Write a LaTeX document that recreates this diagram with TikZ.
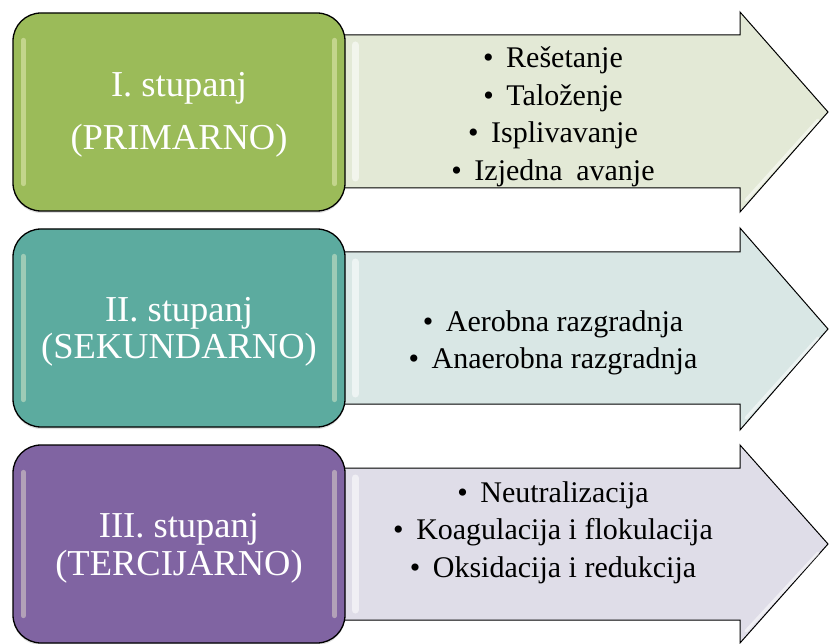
\documentclass[tikz,border=0pt]{standalone}
\usepackage{fontspec}
\setmainfont{Liberation Serif}
\usetikzlibrary{shadows}
\definecolor{stgreen}{HTML}{9BBB59}
\definecolor{stteal}{HTML}{5CAB9F}
\definecolor{stpurple}{HTML}{8064A2}
\definecolor{argreen}{HTML}{E3E9D6}
\definecolor{arteal}{HTML}{D9E7E5}
\definecolor{arpurple}{HTML}{DFDDE8}
\newcommand{\itm}{•\hspace{0.42em}}
\tikzset{
  stagebox/.style={draw=black, line width=1.3pt, rounded corners=28pt,
    minimum width=332pt, minimum height=198pt, inner sep=0pt,
    drop shadow={opacity=0.25, shadow xshift=0pt, shadow yshift=-2pt}},
  arrowbody/.style={draw=black, line width=1pt, line join=miter},
  stagetext/.style={anchor=base, text=white, inner sep=0pt,
    font=\fontsize{36.5}{40}\selectfont},
  itemtext/.style={anchor=base, text=black, inner sep=0pt,
    font=\fontsize{30}{34}\selectfont},
  gloss/.style={draw=white, line width=5pt, opacity=0.4, line cap=round},
}
\begin{document}
\begin{tikzpicture}[x=1pt,y=-1pt]
\useasboundingbox (0,0) rectangle (830,644);
% ---------- arrows ----------
\draw[arrowbody, fill=argreen] (330,35) -- (740,35) -- (740,12) -- (828,112)
  -- (740,212) -- (740,188) -- (330,188) -- cycle;
\draw[arrowbody, fill=arteal] (330,252) -- (740,252) -- (740,228) -- (828,329)
  -- (740,430) -- (740,404) -- (330,404) -- cycle;
\draw[arrowbody, fill=arpurple] (330,468) -- (740,468) -- (740,445) -- (828,544)
  -- (740,643) -- (740,620) -- (330,620) -- cycle;
% arrow highlights
\draw[gloss, opacity=0.55, line width=7pt] (355,45) -- (355,178);
\draw[gloss, opacity=0.55, line width=7pt] (355,262) -- (355,394);
\draw[gloss, opacity=0.55, line width=7pt] (355,478) -- (355,610);
\draw[gloss, opacity=0.5, line width=3pt] (746,200) -- (818,120);
\draw[gloss, opacity=0.5, line width=3pt] (746,418) -- (818,338);
\draw[gloss, opacity=0.5, line width=3pt] (746,631) -- (818,553);
% ---------- stage boxes ----------
\node[stagebox, fill=stgreen] (s1) at (179,112) {};
\node[stagebox, fill=stteal] (s2) at (179,328) {};
\node[stagebox, fill=stpurple] (s3) at (179,544) {};
% box highlights
\foreach \n in {s1,s2,s3}{
  \draw[gloss, draw=white!85!yellow] ([xshift=11pt,yshift=-28pt]\n.north west) -- ([xshift=11pt,yshift=28pt]\n.south west);
  \draw[gloss, draw=white!85!yellow] ([xshift=-11pt,yshift=-28pt]\n.north east) -- ([xshift=-11pt,yshift=28pt]\n.south east);
}
% ---------- stage texts ----------
\node[stagetext] (s1a) at (179,97) {I. stupanj};
\node[stagetext] (s1b) at (179,150) {(PRIMARNO)};
\node[stagetext] (s2a) at (179,322) {II. stupanj};
\node[stagetext] (s2b) at (179,359) {(SEKUNDARNO)};
\node[stagetext] (s3a) at (179,537) {III. stupanj};
\node[stagetext] (s3b) at (179,575) {(TERCIJARNO)};
% ---------- item texts ----------
\node[itemtext] (i1a) at (553,68) {\itm Rešetanje};
\node[itemtext] (i1b) at (553,106) {\itm Taloženje};
\node[itemtext] (i1c) at (553,143) {\itm Isplivavanje};
\node[itemtext] (i1d) at (553,181) {\itm Izjedna\hspace{0.45em}avanje};
\node[itemtext] (i2a) at (553,331) {\itm Aerobna razgradnja};
\node[itemtext] (i2b) at (553,368) {\itm Anaerobna razgradnja};
\node[itemtext] (i3a) at (553,502) {\itm Neutralizacija};
\node[itemtext] (i3b) at (553,539) {\itm Koagulacija i flokulacija};
\node[itemtext] (i3c) at (553,577) {\itm Oksidacija i redukcija};
\end{tikzpicture}
\end{document}
